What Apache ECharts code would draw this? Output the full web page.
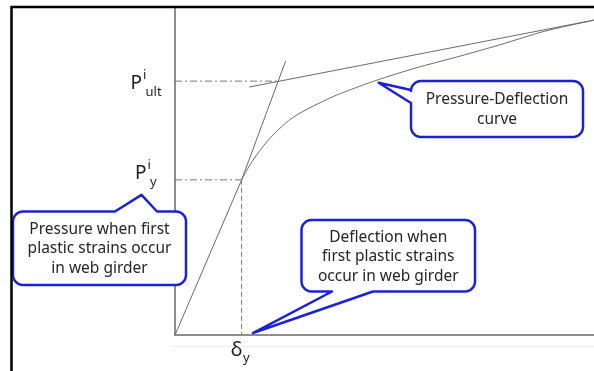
<!DOCTYPE html>
<html>
<head>
<meta charset="utf-8">
<script src="https://cdn.jsdelivr.net/npm/echarts@6/dist/echarts.min.js"></script>
<style>
  html, body { margin: 0; padding: 0; background: #fff; }
  #chart { width: 594px; height: 371px; }
</style>
</head>
<body>
<div id="chart"></div>
<script>
// Normalised deflection (0-100) and pressure (0-100) scales
const deflectionRange = [0, 100];
const pressureRange = [0, 100];

// Characteristic points
const yieldDeflection = 15.9;   // δy
const yieldPressure = 47.3;     // P^i_y
const ultPressure = 77.4;       // P^i_ult
const ultDeflection = 24.8;     // intersection of the two tangent lines

// Pressure-deflection curve: elastic part, then the plastic branch
const elasticDeflection = [0, yieldDeflection];
const elasticPressure = [0, yieldPressure];
const plasticDeflection = [15.9, 16.95, 17.9, 19.09, 20.29, 21.96, 23.87, 25.78, 27.45, 29.83, 32.22, 34.61, 38.19, 41.77, 45.35, 48.93, 53.7, 58.47, 63.25, 68.02, 72.79, 77.57, 82.34, 87.11, 91.89, 100];
const plasticPressure   = [47.3, 49.82, 51.89, 54.18, 56.28, 58.99, 61.59, 63.9, 65.7, 67.65, 69.3, 70.82, 72.93, 74.73, 76.43, 78.02, 79.97, 81.77, 83.41, 85.03, 86.74, 88.48, 90.37, 92.23, 93.75, 96.0];

// Construction lines: elastic stiffness extended, and post-yield asymptote
const elasticTangentDeflection = [yieldDeflection, 26.4];
const elasticTangentPressure = [yieldPressure, 83.5];
const plasticTangentDeflection = [17.7, 100];
const plasticTangentPressure = [75.6, 96.0];

// Tick labels: main symbol, superscript, subscript
const yTickValues = [yieldPressure, ultPressure];
const yTickLabels = [['P', 'i', 'y'], ['P', 'i', 'ult']];
const xTickValues = [yieldDeflection];
const xTickLabels = [['δ', '', 'y']];

// Callout texts
const calloutCurve = 'Pressure-Deflection\ncurve';
const calloutPressure = 'Pressure when first\nplastic strains occur\nin web girder';
const calloutDeflection = 'Deflection when\nfirst plastic strains\noccur in web girder';

const zip = (xs, ys) => xs.map((x, i) => [x, ys[i]]);

const chart = echarts.init(document.getElementById('chart'), null, { renderer: 'canvas' });

const lineColor = '#6a6a6a';
const dashColor = '#7a7a7a';
const axisColor = '#8e8e8e';
const textColor = '#1e1e1e';
const FONT = '"Noto Sans", "DejaVu Sans", sans-serif';

chart.setOption({
  animation: false,
  backgroundColor: '#fff',
  grid: { left: 175, top: 7, right: 0, bottom: 36, containLabel: false },
  xAxis: {
    type: 'value', min: deflectionRange[0], max: deflectionRange[1],
    axisLine: { show: true, lineStyle: { color: axisColor, width: 2 } },
    axisTick: { show: false }, axisLabel: { show: false }, splitLine: { show: false }
  },
  yAxis: {
    type: 'value', min: pressureRange[0], max: pressureRange[1],
    axisLine: { show: true, lineStyle: { color: axisColor, width: 2 } },
    axisTick: { show: false }, axisLabel: { show: false }, splitLine: { show: false }
  },
  series: [
    {
      type: 'line', data: [[0, yieldPressure], [yieldDeflection, yieldPressure]],
      symbol: 'none', lineStyle: { color: dashColor, width: 1, type: [7, 3, 2, 3] }
    },
    {
      type: 'line', data: [[yieldDeflection, yieldPressure], [yieldDeflection, 0]],
      symbol: 'none', lineStyle: { color: dashColor, width: 1, type: [5, 3] }
    },
    {
      type: 'line', data: [[0, ultPressure], [ultDeflection, ultPressure]],
      symbol: 'none', lineStyle: { color: dashColor, width: 1, type: [7, 3, 2, 3] }
    },
    {
      type: 'line', data: zip(elasticTangentDeflection, elasticTangentPressure),
      symbol: 'none', lineStyle: { color: lineColor, width: 1 }
    },
    {
      type: 'line', data: zip(plasticTangentDeflection, plasticTangentPressure),
      symbol: 'none', lineStyle: { color: lineColor, width: 1 }
    },
    {
      type: 'line', data: zip(elasticDeflection, elasticPressure),
      symbol: 'none', lineStyle: { color: lineColor, width: 1 }
    },
    {
      type: 'line', data: zip(plasticDeflection, plasticPressure), smooth: 0.2,
      symbol: 'none', lineStyle: { color: lineColor, width: 1 }
    }
  ]
});

// Rounded speech bubble outline as a polygon; the tail sits on one side
function bubblePoints(x, y, w, h, r, side, a, b, tip) {
  const pts = [];
  const arc = (cx, cy, t0, t1) => {
    const n = 8;
    for (let i = 0; i <= n; i++) {
      const t = t0 + (t1 - t0) * i / n;
      pts.push([cx + r * Math.cos(t), cy + r * Math.sin(t)]);
    }
  };
  const P = Math.PI;
  arc(x + r, y + r, P, 1.5 * P);
  if (side === 'top') { pts.push([a, y], tip, [b, y]); }
  arc(x + w - r, y + r, 1.5 * P, 2 * P);
  arc(x + w - r, y + h - r, 0, 0.5 * P);
  if (side === 'bottom') { pts.push([b, y + h], tip, [a, y + h]); }
  arc(x + r, y + h - r, 0.5 * P, P);
  if (side === 'left') { pts.push([x, b], tip, [x, a]); }
  return pts;
}

const bubbleStroke = '#1b22d6';
function bubble(box, side, a, b, tip, text, textY) {
  return [
    {
      type: 'polygon', z: 10,
      shape: { points: bubblePoints(box[0], box[1], box[2], box[3], 10, side, a, b, tip) },
      style: { fill: '#fff', stroke: bubbleStroke, lineWidth: 2.5, lineJoin: 'round' }
    },
    {
      type: 'text', z: 11, x: box[0] + box[2] / 2, y: textY,
      style: {
        text: text, fontSize: 15.5, fontFamily: FONT,
        fill: '#262626', align: 'center', verticalAlign: 'middle',
        textAlign: 'center', textVerticalAlign: 'middle', lineHeight: 19.5
      }
    }
  ];
}

function textEl(x, y, text, size, align) {
  return {
    type: 'text', z: 5, x: x, y: y,
    style: {
      text: text, fontSize: size, fontFamily: FONT, fill: textColor,
      align: align, verticalAlign: 'bottom', textAlign: align, textVerticalAlign: 'bottom'
    }
  };
}

function layoutAnnotations() {
  const px = (x, y) => chart.convertToPixel({ gridIndex: 0 }, [x, y]);
  const g = [];

  // outer frame of the figure (top and left borders)
  g.push({
    type: 'polyline', z: 20,
    shape: { points: [[11.5, 371], [11.5, 7], [594, 7]] },
    style: { stroke: '#000', lineWidth: 2.5, fill: null }
  });
  // faint baseline under the deflection axis
  g.push({
    type: 'line', z: 1,
    shape: { x1: 171, y1: 346.5, x2: 594, y2: 346.5 },
    style: { stroke: '#eeeeee', lineWidth: 1 }
  });

  // P labels on the pressure axis
  const axisX = px(0, 0)[0];
  yTickValues.forEach((v, i) => {
    const yy = px(0, v)[1];
    const [m, sup, sub] = yTickLabels[i];
    const isUlt = sub.length > 1;
    const supX = isUlt ? axisX - 32 : axisX - 27.5;
    const base = yy + (isUlt ? 12 : 3);      // bottom of the P text box
    g.push(textEl(supX - 1, base, m, 19, 'right'));
    g.push(textEl(supX, base - 11, sup, 13, 'left'));
    g.push(textEl(supX + 2.5, base + 6, sub, 13, 'left'));
  });

  // δ label on the deflection axis
  xTickValues.forEach((v, i) => {
    const p = px(v, 0);
    const [m, , sub] = xTickLabels[i];
    g.push(textEl(p[0] + 1, p[1] + 25, m, 20, 'right'));
    g.push(textEl(p[0] + 1.5, p[1] + 30, sub, 13, 'left'));
  });

  // callout pointing at the curve
  const curveTip = px(48.6, 76.9);
  g.push(...bubble([411, 81, 172, 56], 'left', 90, 103, curveTip, calloutCurve, 109.5));
  // callout pointing at the P^i_y label
  const pyTip = [141.5, px(0, yieldPressure)[1] + 15];
  g.push(...bubble([13, 211.5, 173, 73.5], 'top', 115, 157, pyTip, calloutPressure, 249));
  // callout pointing at δy on the axis
  const dyTip = px(18.6, 0.6);
  g.push(...bubble([301.5, 220, 173.5, 71.5], 'bottom', 332, 373, dyTip, calloutDeflection, 257));

  chart.setOption({ graphic: { elements: g } });
}

layoutAnnotations();
</script>
</body>
</html>
